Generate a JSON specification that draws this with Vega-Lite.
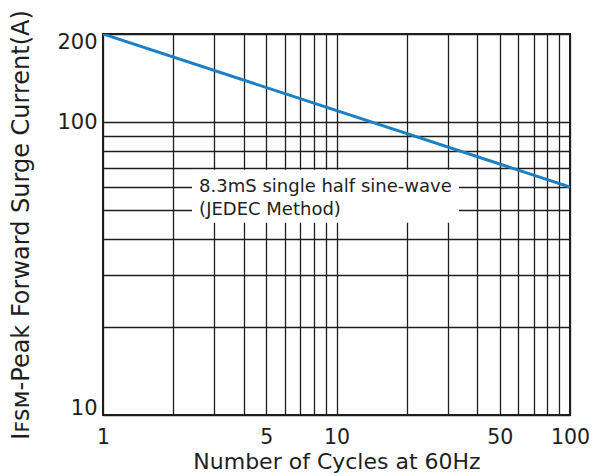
{
  "$schema": "https://vega.github.io/schema/vega-lite/v6.json",
  "width": 467,
  "height": 381,
  "autosize": {"type": "none"},
  "padding": {"left": 103, "top": 34, "right": 43, "bottom": 61},
  "background": "white",
  "config": {
    "view": {"stroke": "#1e1e1e", "strokeWidth": 2},
    "font": "DejaVu Sans",
    "axis": {
      "grid": true,
      "gridColor": "#1e1e1e",
      "gridWidth": 1.3,
      "gridOpacity": 1,
      "domain": false,
      "ticks": false,
      "tickSize": 0,
      "labelFont": "DejaVu Sans",
      "labelFontSize": 21,
      "labelColor": "#1e1e1e",
      "labelOverlap": false,
      "titleFont": "DejaVu Sans",
      "titleFontWeight": "normal",
      "titleColor": "#1e1e1e"
    }
  },
  "datasets": {
    "curve": [
      {"cycles": 1, "current": 200},
      {"cycles": 100, "current": 60}
    ],
    "note": [
      {"x1": 2.405, "x2": 33.47, "y1": 45.35, "y2": 68.8}
    ],
    "labels": [
      {"cycles": 2.58, "current": 60, "text": "8.3mS single half sine-wave"},
      {"cycles": 2.58, "current": 50, "text": "(JEDEC Method)"}
    ]
  },
  "layer": [
    {
      "data": {"name": "note"},
      "mark": {"type": "rect", "color": "white", "opacity": 1},
      "encoding": {
        "x": {
          "field": "x1", "type": "quantitative",
          "scale": {"type": "log", "domain": [1, 100], "nice": false},
          "axis": {
            "orient": "bottom",
            "values": [1, 2, 3, 4, 5, 6, 7, 8, 9, 10, 20, 30, 40, 50, 60, 70, 80, 90, 100],
            "labelExpr": "indexof([1, 5, 10, 50, 100], datum.value) >= 0 ? format(datum.value, 'd') : ''",
            "labelFontSize": 20.5,
            "labelPadding": 12,
            "labelFlush": false,
            "title": "Number of Cycles at 60Hz",
            "titleFontSize": 22,
            "titlePadding": 4
          }
        },
        "x2": {"field": "x2"},
        "y": {
          "field": "y1", "type": "quantitative",
          "scale": {"type": "log", "domain": [10, 200], "nice": false},
          "axis": {
            "orient": "left",
            "values": [10, 20, 30, 40, 50, 60, 70, 80, 90, 100, 200],
            "labelExpr": "indexof([10, 100, 200], datum.value) >= 0 ? format(datum.value, 'd') : ''",
            "labelPadding": 6,
            "labelFlush": true,
            "labelFlushOffset": 3,
            "title": "Iꜰꜱᴍ-Peak Forward Surge Current(A)",
            "titleFontSize": 24,
            "titlePadding": 23
          }
        },
        "y2": {"field": "y2"}
      }
    },
    {
      "data": {"name": "curve"},
      "mark": {"type": "line", "color": "#1b7fc4", "strokeWidth": 3, "clip": true},
      "encoding": {
        "x": {"field": "cycles", "type": "quantitative"},
        "y": {"field": "current", "type": "quantitative"}
      }
    },
    {
      "data": {"name": "labels"},
      "mark": {"type": "text", "align": "left", "baseline": "middle", "fontSize": 18, "font": "DejaVu Sans", "color": "#1e1e1e"},
      "encoding": {
        "x": {"field": "cycles", "type": "quantitative"},
        "y": {"field": "current", "type": "quantitative"},
        "text": {"field": "text"}
      }
    }
  ]
}
